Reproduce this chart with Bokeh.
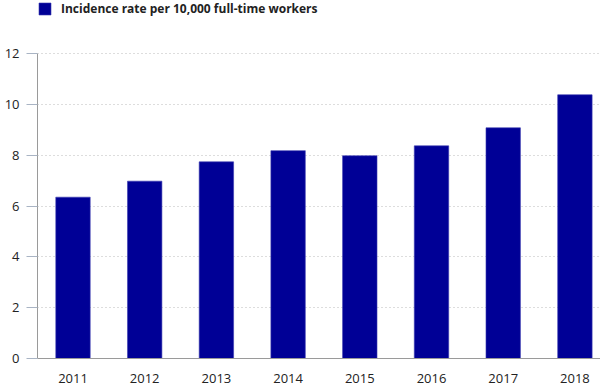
from bokeh.plotting import figure
from bokeh.models import ColumnDataSource, Range1d, FixedTicker, Legend, LegendItem
from bokeh.embed import file_html
from bokeh.resources import INLINE

years = [2011, 2012, 2013, 2014, 2015, 2016, 2017, 2018]
rates = [6.35, 6.98, 7.74, 8.18, 7.98, 8.37, 9.08, 10.38]
y_ticks = [0, 2, 4, 6, 8, 10, 12]
series_name = "Incidence rate per 10,000 full-time workers"

FONT = "Open Sans"
BAR = "#000096"

src = ColumnDataSource(dict(year=years, rate=rates))

p = figure(width=600, height=391, output_backend="svg", toolbar_location=None,
           x_range=Range1d(2010.505, 2018.357), y_range=Range1d(0, 14.09),
           min_border_left=37, min_border_right=0, min_border_top=0, min_border_bottom=33)
p.outline_line_color = None

r = p.vbar(x="year", top="rate", width=0.48, source=src, fill_color=BAR,
           line_color="#3a3ab0", line_width=0.6)

# axes
p.xaxis.ticker = FixedTicker(ticks=years)
p.xaxis.major_tick_line_color = None
p.xaxis.minor_tick_line_color = None
p.xaxis.major_label_standoff = 9
p.xaxis.axis_line_color = "#9a9a9a"
p.xaxis.major_label_text_font = FONT
p.xaxis.major_label_text_font_size = "13px"
p.xaxis.major_label_text_color = "#222222"

p.yaxis.ticker = FixedTicker(ticks=y_ticks)
p.yaxis.bounds = (0, 12)
p.yaxis.axis_line_color = "#9a9a9a"
p.yaxis.major_tick_out = 11
p.yaxis.major_tick_in = 0
p.yaxis.major_tick_line_color = "#a9b4c4"
p.yaxis.minor_tick_line_color = None
p.yaxis.major_label_standoff = 7
p.yaxis.major_label_text_font = FONT
p.yaxis.major_label_text_font_size = "13px"
p.yaxis.major_label_text_color = "#222222"

p.xgrid.grid_line_color = None
p.ygrid.ticker = FixedTicker(ticks=y_ticks)
p.ygrid.grid_line_color = "#bbbbbb"
p.ygrid.grid_line_dash = "1 3"
p.ygrid.grid_line_width = 1

legend = Legend(items=[LegendItem(label=series_name, renderers=[r])],
                location="top_left", margin=0, padding=0,
                border_line_color=None, background_fill_alpha=0,
                glyph_width=15, glyph_height=15, label_standoff=9,
                label_text_font=FONT, label_text_font_style="bold",
                label_text_font_size="12px", label_text_color="#222222")
p.add_layout(legend)

open("out.html", "w").write(file_html(p, INLINE))
